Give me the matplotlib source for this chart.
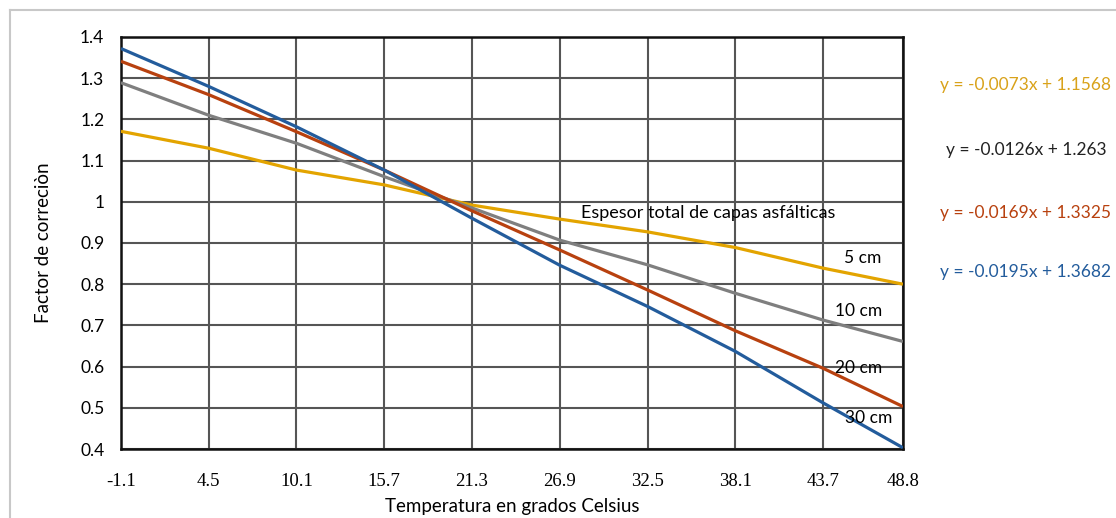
import matplotlib
matplotlib.use("Agg")
import matplotlib.pyplot as plt
from matplotlib.lines import Line2D

# temperatures (deg C) and correction factors
temps = [-1.1, 4.5, 10.1, 15.7, 21.3, 26.9, 32.5, 38.1, 43.7, 48.8]
f_5cm = [1.171, 1.130, 1.077, 1.041, 0.992, 0.958, 0.927, 0.889, 0.839, 0.800]
f_10cm = [1.289, 1.210, 1.142, 1.061, 0.985, 0.907, 0.847, 0.778, 0.713, 0.661]
f_20cm = [1.341, 1.260, 1.170, 1.077, 0.978, 0.883, 0.786, 0.687, 0.596, 0.503]
f_30cm = [1.372, 1.280, 1.182, 1.077, 0.960, 0.846, 0.746, 0.637, 0.512, 0.403]

labels = ["5 cm", "10 cm", "20 cm", "30 cm"]
equations = ["y = -0.0073x + 1.1568", "y = -0.0126x + 1.263",
             "y = -0.0169x + 1.3325", "y = -0.0195x + 1.3682"]
colors = ["#E3A400", "#7F7F7F", "#B8410F", "#235C9C"]
eq_colors = ["#D9A21A", "#222222", "#B8410F", "#235C9C"]

sans = ["Lato", "DejaVu Sans"]
serif = ["Liberation Serif", "DejaVu Serif"]

fig = plt.figure(figsize=(11.16, 5.18), dpi=100)
ax = fig.add_axes([0.1084, 0.1332, 0.7007, 0.7954])

for ys, c in zip([f_5cm, f_10cm, f_20cm, f_30cm], colors):
    ax.plot(temps, ys, color=c, lw=2.3, solid_capstyle="butt", zorder=3)

ax.set_xlim(temps[0], temps[-1])
ax.set_ylim(0.4, 1.4)
ax.set_xticks(temps)
ax.set_xticklabels([f"{t:g}" for t in temps], family=serif, fontsize=13.5)
ax.set_yticks([0.4 + 0.1 * i for i in range(11)])
ax.set_yticklabels(["0.4", "0.5", "0.6", "0.7", "0.8", "0.9", "1", "1.1", "1.2", "1.3", "1.4"],
                   family=sans, fontsize=12.5)
ax.tick_params(axis="x", length=0, pad=17)
ax.tick_params(axis="y", length=0, pad=12)
ax.grid(True, color="#555555", lw=1.5, zorder=1)
for s in ax.spines.values():
    s.set_color("#111111")
    s.set_linewidth(1.8)

ax.set_xlabel("Temperatura en grados Celsius", family=sans, fontsize=13.5, labelpad=6)
ax.set_ylabel("Factor de correciòn", family=sans, fontsize=13.5, labelpad=20)

# annotations inside the plot
ax.text(36.4, 0.972, "Espesor total de capas asfálticas", family=sans, fontsize=13,
        ha="center", va="center", zorder=4)
ax.text(46.2, 0.864, labels[0], family=sans, fontsize=12.5, ha="center", va="center", zorder=4)
ax.text(46.0, 0.735, labels[1], family=sans, fontsize=12.5, ha="center", va="center", zorder=4)
ax.text(46.0, 0.597, labels[2], family=sans, fontsize=12.5, ha="center", va="center", zorder=4)
ax.text(46.6, 0.476, labels[3], family=sans, fontsize=12.5, ha="center", va="center", zorder=4)

# trendline equations at the right
eq_y = [85, 150, 213, 272]
for eq, c, yp in zip(equations, eq_colors, eq_y):
    fig.text(1026 / 1116, 1 - yp / 518, eq, family=sans, fontsize=12.5, color=c,
             ha="center", va="center")

# light frame around the chart area
fig.add_artist(Line2D([10 / 1116, 1], [1 - 10 / 518, 1 - 10 / 518], color="#c8c8c8", lw=1.5))
fig.add_artist(Line2D([10 / 1116, 10 / 1116], [0, 1 - 10 / 518], color="#c8c8c8", lw=1.5))

fig.savefig("out.png", dpi=100)
